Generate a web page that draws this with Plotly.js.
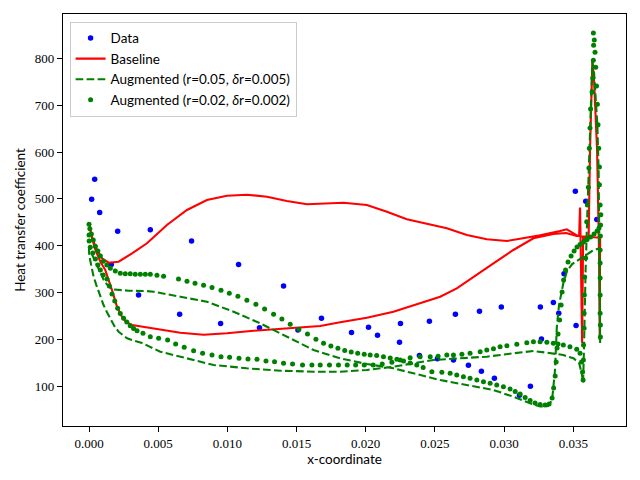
<!DOCTYPE html>
<html>
<head>
<meta charset="utf-8">
<script src="https://cdn.plot.ly/plotly-3.0.1.min.js"></script>
<style>html,body{margin:0;padding:0;background:#fff}#chart{width:640px;height:480px}</style>
</head>
<body>
<div id="chart"></div>
<script>
// ---- Data ----
var xTicks = [0, 0.005, 0.010, 0.015, 0.020, 0.025, 0.030, 0.035];
var yTicks = [100, 200, 300, 400, 500, 600, 700, 800];

var dataX = [0.00041,0.00019,0.00077,0.00207,0.00443,0.00161,0.00741,0.00358,0.01081,0.00655,0.00951,0.01406,0.01232,0.0151,0.0168,0.01897,0.0202,0.02085,0.02244,0.02251,0.0246,0.02648,0.02822,0.0298,0.03262,0.03356,0.03395,0.0327,0.02388,0.02518,0.02634,0.02742,0.02836,0.0293,0.03111,0.0319,0.03433,0.03515,0.0359,0.0367,0.0352];
var dataY = [542,499,471,431,434,360,410,295,360,254,234,314,225,220,245,215,226,209,194,234,239,254,260,269,269,279,256,201,166,159,156,145,132,117,81,100,340,516,495,456,230];

var baseX = [0,0.00017,0.00046,0.00082,0.00118,0.00143,0.00166,0.00186,0.00202,0.00238,0.00269,0.00311,0.00407,0.00515,0.0066,0.00828,0.00997,0.01189,0.01382,0.01526,0.01671,0.01815,0.02008,0.022,0.02393,0.02538,0.02658,0.02778,0.02923,0.03067,0.03212,0.03356,0.03448,0.03525,0.03542,0.03549,0.03556,0.03564,0.03571,0.03611,0.03621,0.03638,0.0365,0.03672,0.03686,0.03691,0.03694,0.0367,0.03535,0.03501,0.03453,0.03404,0.0326,0.03115,0.0302,0.02875,0.02731,0.02586,0.02442,0.02297,0.02153,0.02008,0.01839,0.01671,0.01575,0.0143,0.01286,0.01141,0.00997,0.00852,0.00708,0.00563,0.00419,0.00311,0.00214,0.00142,0.00094,0.00046,0.00017,0];
var baseY = [450,421,391,366,348,327,305.5,286,270,248.5,237,231,226,221.6,214.4,210.1,213.1,218.6,222.3,224.4,228.7,236.6,246.4,259.2,277.1,291.2,309.1,333.9,362.5,390.9,415.8,425,427.1,420.7,420.7,481.6,369.5,192.4,418.6,418.6,604.3,794.2,753.6,604.3,390.9,198.8,418.6,417.5,420.7,427.2,435,431.4,422.2,415,410.1,413.7,422.9,437.2,446.4,456.4,472.6,486.9,491.8,490.5,488.4,495.4,504.6,508.9,506.8,497.6,476.2,444.2,405.2,383.8,365.9,363.8,373.2,397.9,422.9,450];

var aug05X = [0,0.00001,0.00013,0.00033,0.00053,0.00069,0.00089,0.00105,0.00129,0.00154,0.00183,0.00214,0.00275,0.0032,0.00383,0.00515,0.00708,0.009,0.01141,0.01382,0.01623,0.01815,0.02008,0.022,0.02345,0.02489,0.02682,0.02875,0.03067,0.03212,0.03309,0.03428,0.03501,0.03542,0.03561,0.03571,0.03577,0.03582,0.03589,0.036,0.03611,0.03621,0.03631,0.03638,0.0365,0.03665,0.03674,0.03683,0.03689,0.03691,0.03694,0.03694,0.0369,0.03636,0.03549,0.03492,0.03455,0.03428,0.03397,0.03381,0.03368,0.03356,0.03347,0.03318,0.0326,0.03188,0.03067,0.02923,0.02731,0.02538,0.02345,0.022,0.02008,0.01815,0.01623,0.0143,0.01237,0.01045,0.00852,0.0066,0.00467,0.00407,0.00286,0.00166,0.00139,0.0011,0.00082,0.00053,0.00024,0];
var aug05Y = [397,380,362.5,334,316,302,286,273.5,258.6,245.1,228.7,216.5,202.4,197.7,192.4,173.8,159.8,145.5,138.4,133.3,131.2,131.2,134.8,141.8,149.1,156.1,159.8,163.2,170.4,175.3,171.7,166.8,159.8,149.7,127.7,107,177.5,262.8,348.2,455,561.6,668.1,743,792,770.7,711,657.6,561.6,455,326.9,192.4,305.5,395.1,388.7,371.6,360.9,346,319.8,273.5,226.5,134.8,85.7,70.8,58,56.9,63.7,77.8,92.1,102.8,113.4,127.7,138.4,147.6,159.8,177.5,205.8,234.4,259.2,280.5,291.2,301.9,303.4,304,307,314.1,324.7,341.8,361,380.2,397];

var aug02UpperX = [0,0.00006,0.00017,0.00031,0.00046,0.00064,0.00082,0.00103,0.00129,0.00154,0.0019,0.00226,0.00262,0.00298,0.00334,0.00371,0.00407,0.00443,0.00491,0.00539,0.00647,0.00708,0.00766,0.00828,0.00889,0.00954,0.01014,0.01076,0.01141,0.01206,0.01269,0.01334,0.01394,0.01454,0.01517,0.01579,0.0164,0.01695,0.01748,0.01799,0.01848,0.01895,0.01942,0.01989,0.02032,0.02079,0.02128,0.02177,0.02225,0.02273,0.02321,0.02369,0.02415,0.02478,0.0255,0.0261,0.02658,0.02706,0.02754,0.02803,0.02851,0.02899,0.02947,0.02995,0.03043,0.0308,0.03116,0.03152,0.03188,0.03224,0.0326,0.03296,0.03325,0.03347,0.03358,0.03369,0.03376,0.03383,0.0339,0.03401,0.03412,0.03419,0.0343,0.03444,0.03462,0.03484,0.03506,0.03527,0.03549,0.03574,0.036,0.03625,0.0365,0.03672,0.03686,0.03697];
var aug02UpperY = [446,436,425,412,399,389,378,367,359,352,346,341,340,340,339,339,339,339,337,335,329,324,320,315.5,311,305,298.5,292,283.5,275,265,254,243.6,232.3,221.6,211.6,200.3,191.8,186,181.1,176.4,173.2,170.4,168.3,166.8,165.7,163.2,160.4,157.6,154,149.7,145.5,140.1,131.2,129.9,127.7,124.1,120.5,117.1,113.4,109.8,106.4,102.8,99.1,94.2,88.9,83.5,76.1,69.7,64.4,61.2,60.1,62.2,75,96.4,122,151.9,181.7,211.6,241.5,273.5,301.2,326.8,348.2,365.3,378.1,388.7,397.3,402.6,407.9,413.3,418.6,425,431.4,437.8,444.2];

var aug02LowerX = [0,0.00001,0.00009,0.00027,0.00046,0.00064,0.00082,0.00103,0.0013,0.00147,0.00166,0.00186,0.00207,0.00226,0.0025,0.00273,0.00298,0.00322,0.00347,0.0039,0.00443,0.00503,0.00568,0.00626,0.00688,0.00756,0.00821,0.00889,0.00954,0.01016,0.01084,0.01149,0.01214,0.01279,0.01341,0.01406,0.01471,0.01543,0.01611,0.01671,0.01738,0.01803,0.01866,0.01927,0.01989,0.02054,0.02119,0.02189,0.02249,0.02321,0.02393,0.02466,0.02523,0.02586,0.02634,0.02695,0.02754,0.02827,0.02875,0.02923,0.02971,0.0302,0.03092,0.03164,0.03212,0.0326,0.03309,0.03356,0.0339,0.03428,0.03476,0.03525,0.03549,0.0356,0.03567,0.03571];
var aug02LowerY = [423,410,397,384.5,371.7,358.9,348.2,337.5,329,314.1,297,282,266.5,255.4,245.1,237.2,229.3,223.3,218.7,213.1,205.8,202.4,198.8,190.3,183.2,176,170.4,166.8,163.2,161.9,159.8,158.3,157.6,154,152.5,149.1,147.6,145.5,145.5,145.5,145.5,145.5,145.5,145.5,145.5,145.5,147.6,151.2,156.1,161,163.2,163.2,164,166.8,166.8,168.3,170.4,173.8,177.5,180.2,184.5,186.6,189.6,193,195.2,195.2,193.9,191.8,190.3,188.1,184.5,179,170.4,151.9,130.5,113.4];

var aug02TipX = [0.03573,0.03574,0.03578,0.03578,0.0358,0.03582,0.03589,0.03592,0.03597,0.03602,0.03609,0.03613,0.03616,0.03621,0.03625,0.03636,0.03641,0.03645,0.03647,0.03652,0.03645,0.03657,0.03662,0.03668,0.03674,0.03679,0.03684,0.03689,0.03689,0.03694,0.03699,0.03696,0.03694,0.03694,0.03694,0.03694,0.03694,0.03696,0.03696];
var aug02TipY = [156,188,224,256,295,333,374,412,451,487,525,566,608,651,692,728,758,796,828,839,854,813,781,741,702,658,608,568,530,487,466,421,391,363,331,295,256,231,205];

// ---- Build traces ----
var aug02X = aug02UpperX.concat(aug02LowerX, aug02TipX);
var aug02Y = aug02UpperY.concat(aug02LowerY, aug02TipY);

var traces = [
  {x: dataX, y: dataY, mode: 'markers', name: 'Data',
   marker: {color: '#0000ff', size: 5.5, line: {width: 0}}},
  {x: baseX, y: baseY, mode: 'lines', name: 'Baseline',
   line: {color: '#ff0000', width: 2.1}},
  {x: aug05X, y: aug05Y, mode: 'lines', name: 'Augmented (r=0.05, <i>δ</i>r=0.005)',
   line: {color: '#008000', width: 2.1, dash: '7.7px,3.3px'}},
  {x: aug02X, y: aug02Y, mode: 'markers', name: 'Augmented (r=0.02, <i>δ</i>r=0.002)',
   marker: {color: '#008000', size: 5, line: {width: 0}}}
];

var tickFont = {family: 'Liberation Serif, DejaVu Serif, serif', size: 13, color: '#000'};
var labelFont = {family: 'Lato, Open Sans, sans-serif', size: 13.5, color: '#000'};

var layout = {
  width: 640, height: 480,
  margin: {l: 63, r: 14, t: 14, b: 54, pad: 0},
  paper_bgcolor: '#fff', plot_bgcolor: '#fff',
  showlegend: true,
  legend: {x: 0.0117, y: 0.981, xanchor: 'left', yanchor: 'top',
           bgcolor: 'rgba(255,255,255,0.8)', bordercolor: '#cccccc', borderwidth: 1,
           font: labelFont, tracegroupgap: 0},
  xaxis: {range: [-0.00188, 0.03881], tickvals: xTicks, tickformat: '.3f',
          ticks: 'outside', ticklen: 5, tickwidth: 1, tickcolor: '#000',
          showline: true, mirror: true, linecolor: '#000', linewidth: 1.1,
          showgrid: false, zeroline: false, tickfont: tickFont, automargin: false,
          title: {text: 'x-coordinate', font: labelFont, standoff: 3}},
  yaxis: {range: [15.3, 894.5], tickvals: yTicks,
          ticks: 'outside', ticklen: 5, tickwidth: 1, tickcolor: '#000',
          showline: true, mirror: true, linecolor: '#000', linewidth: 1.1,
          showgrid: false, zeroline: false, tickfont: tickFont, automargin: false,
          title: {text: 'Heat transfer coefficient', font: labelFont, standoff: 6}}
};

Plotly.newPlot('chart', traces, layout, {displayModeBar: false, staticPlot: true});
</script>
</body>
</html>
